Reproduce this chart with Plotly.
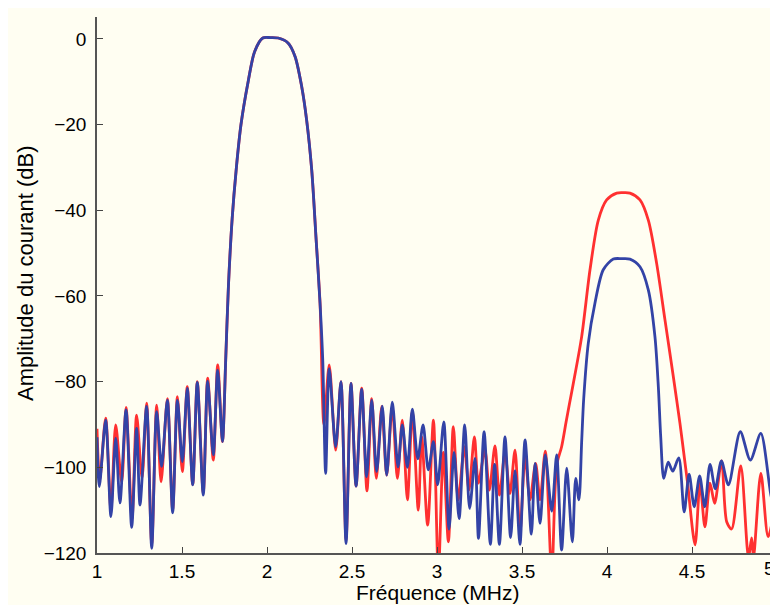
import plotly.graph_objects as go

# ---- data (frequency in MHz, amplitude in dB) ----
blue_f = [1.000, 1.0137, 1.051, 1.082, 1.11, 1.135, 1.171, 1.204, 1.233, 1.253,
          1.292, 1.322, 1.351, 1.38, 1.414, 1.445, 1.473, 1.502, 1.531, 1.563,
          1.59, 1.625, 1.651, 1.684, 1.71, 1.738,
          1.757, 1.773, 1.795, 1.82, 1.847, 1.889, 1.927, 1.975, 2.02, 2.066,
          2.125, 2.165, 2.204, 2.233, 2.263, 2.288, 2.312, 2.328,
          2.345, 2.366, 2.404, 2.435, 2.465, 2.494, 2.524, 2.557, 2.586, 2.616,
          2.645, 2.678, 2.704, 2.737, 2.771, 2.796, 2.826, 2.855, 2.887, 2.918,
          2.949, 2.979, 3.004, 3.04, 3.071, 3.1, 3.13, 3.163, 3.192, 3.224,
          3.244, 3.277, 3.314, 3.339, 3.367, 3.4, 3.433, 3.459, 3.488, 3.518,
          3.555, 3.577, 3.606, 3.637, 3.675, 3.704, 3.733, 3.763, 3.796, 3.816,
          3.835, 3.851, 3.863, 3.89, 3.929, 3.978, 4.037, 4.086, 4.135,
          4.194, 4.243, 4.282, 4.302, 4.316, 4.334, 4.36, 4.387, 4.422, 4.454,
          4.483, 4.513, 4.545, 4.575, 4.606, 4.637, 4.673, 4.714, 4.784, 4.843,
          4.905, 4.972, 5.0]
blue_db = [-93, -104.5, -89, -111.5, -93.2, -108.3, -86.6, -114, -90.9, -108.8,
           -85.8, -118.9, -87, -99.8, -84.3, -110.6, -84.3, -98.7, -81.6, -104.1,
           -80.2, -106.5, -79.9, -97.1, -77.3, -94,
           -75, -57.8, -42, -30, -20, -10, -3, 0.2, 0.3, 0.2,
           -1, -4.1, -11.1, -18.9, -30.6, -46.2, -61.7, -75,
           -101.4, -77, -95.2, -80, -117.8, -80.4, -104.4, -81.8, -102.2, -84.3,
           -101, -85.7, -101.8, -84.8, -99.9, -90.1, -100, -86.4, -98, -90.1,
           -100.6, -94, -104.1, -89.4, -114.4, -96.5, -112, -90.1, -109.6, -97.9,
           -116.6, -91.7, -118, -99.3, -118, -92.9, -116.4, -100.8, -118, -93.6,
           -115.6, -99.1, -113.1, -97.1, -110.2, -97.1, -119.3, -100.2, -117.4, -102.6,
           -107.6, -94, -84, -71, -61.7, -53.9, -51.4, -51.3, -51.4,
           -53.2, -58.6, -69.5, -81.2, -92.9, -102.6, -98.8, -100.9, -97.8, -110.4,
           -101.6, -109.2, -102, -109.2, -99.3, -105, -98.5, -104.1, -91.7, -98.3,
           -92.1, -107.6, -101]

red_f = [1.000, 1.016, 1.051, 1.082, 1.11, 1.145, 1.171, 1.206, 1.233, 1.265,
         1.292, 1.322, 1.351, 1.377, 1.414, 1.445, 1.473, 1.502, 1.531, 1.563,
         1.59, 1.625, 1.651, 1.684, 1.71, 1.738,
         1.757, 1.773, 1.795, 1.82, 1.847, 1.889, 1.927, 1.975, 2.02, 2.066,
         2.125, 2.165, 2.204, 2.233, 2.263, 2.288, 2.312, 2.335,
         2.366, 2.404, 2.435, 2.465, 2.494, 2.524, 2.557, 2.588, 2.616, 2.643,
         2.675, 2.704, 2.737, 2.767, 2.796, 2.826, 2.855, 2.89, 2.91, 2.945,
         2.979, 3.008, 3.037, 3.067, 3.096, 3.125, 3.161, 3.188, 3.22, 3.243,
         3.282, 3.308, 3.341, 3.367, 3.4, 3.429, 3.459, 3.488, 3.518, 3.547,
         3.58, 3.606, 3.637, 3.675, 3.704, 3.733, 3.759, 3.78, 3.802, 3.851,
         3.9, 3.949, 3.998, 4.057, 4.096, 4.135, 4.194, 4.243, 4.292, 4.341,
         4.39, 4.429, 4.459, 4.475, 4.518, 4.547, 4.576, 4.606, 4.633, 4.674,
         4.704, 4.733, 4.787, 4.832, 4.851, 4.862, 4.905, 4.948, 5.0]
red_db = [-91, -103, -88.5, -110, -90.1, -103.5, -86, -112, -87.8, -102.5,
          -85, -118, -85.5, -103.4, -84, -110, -83.5, -101, -81.2, -104,
          -80, -106, -79.2, -98.3, -76.1, -94,
          -75, -57.8, -42, -30, -20, -10, -3, 0.2, 0.3, 0.2,
          -1, -4.1, -11.1, -18.9, -30.6, -46.2, -61.7, -90,
          -76.1, -96, -80, -117, -80.4, -104.4, -81.5, -105.5, -84, -102.6,
          -85.8, -101.8, -85.8, -102.6, -89, -107.6, -87, -110, -92.9, -113.5,
          -89, -125, -96.5, -117.4, -90.5, -107.6, -95.2, -105.3, -92.9, -103.7,
          -96, -105.3, -95, -106.5, -96.7, -106.1, -96, -115.4, -97.5, -107.6,
          -99.1, -107.6, -96.2, -125, -99.5, -95.2, -89.5, -85, -80.4, -69.5,
          -53.9, -42.3, -37.6, -36, -35.9, -36, -37.6, -42.3, -52.4, -65.6,
          -78.8, -89.7, -99, -104, -118.1, -103.7, -113.9, -103.7, -108.4, -98.5,
          -112.7, -114.4, -99.7, -121, -116.5, -121, -101.4, -116.2, -106]

x_ticks = [1, 1.5, 2, 2.5, 3, 3.5, 4, 4.5, 5]
x_tick_text = ["1", "1.5", "2", "2.5", "3", "3.5", "4", "4.5", "5"]
y_ticks = [0, -20, -40, -60, -80, -100, -120]
y_tick_text = ["0", "\u221220", "\u221240", "\u221260", "\u221280", "\u2212100", "\u2212120"]

RED = "#ff3030"
BLUE = "#3343a6"
CREAM = "#fffef2"
FONT = "Liberation Sans, Arial, sans-serif"

fig = go.Figure()
fig.add_trace(go.Scatter(x=red_f, y=red_db, mode="lines",
                         line=dict(color=RED, width=2.8, shape="spline", smoothing=0.8),
                         showlegend=False, hoverinfo="skip"))
fig.add_trace(go.Scatter(x=blue_f, y=blue_db, mode="lines",
                         line=dict(color=BLUE, width=2.8, shape="spline", smoothing=0.8),
                         showlegend=False, hoverinfo="skip"))

# the page body has an 8px margin, so the figure is 8px smaller than the window
OFF = 8
W, H = 770, 597
ml, mr, mt, mb = 89, 1, 9, 52
pw, ph = W - ml - mr, H - mt - mb

def px_to_paper_x(px):  # px: window pixel
    return (px - OFF - ml) / pw

def px_to_paper_y(py):
    return (H - mb - (py - OFF)) / ph

# the last x tick label sits on the right edge: draw it right-anchored so it stays visible
shown_ticktext = x_tick_text[:-1] + [""]
annotations = [
    dict(text=x_tick_text[-1], xref="x", yref="paper", x=x_ticks[-1], y=0,
         xanchor="right", yanchor="top", yshift=-3, showarrow=False,
         font=dict(family=FONT, size=19, color="black")),
    dict(text="Fréquence (MHz)", xref="paper", yref="paper",
         x=0.5, y=px_to_paper_y(592), xanchor="center", yanchor="middle",
         showarrow=False, font=dict(family=FONT, size=21, color="black")),
    dict(text="Amplitude du courant (dB)", xref="paper", yref="paper",
         x=px_to_paper_x(25), y=px_to_paper_y(273), xanchor="center", yanchor="middle",
         textangle=-90, showarrow=False, font=dict(family=FONT, size=22, color="black")),
]

fig.update_layout(
    width=W, height=H,
    margin=dict(l=ml, r=mr, t=mt, b=mb, pad=0, autoexpand=False),
    paper_bgcolor=CREAM, plot_bgcolor=CREAM,
    font=dict(family=FONT, size=19, color="black"),
    showlegend=False,
    annotations=annotations,
)
fig.update_xaxes(range=[1, 5], tickvals=x_ticks, ticktext=shown_ticktext,
                 ticks="inside", ticklen=6, tickcolor="#444", tickwidth=1,
                 showline=True, linecolor="#555", linewidth=1.5, mirror=False,
                 showgrid=False, zeroline=False, ticklabelstandoff=0,
                 tickfont=dict(family=FONT, size=19, color="black"))
fig.update_yaxes(range=[-120, 5.1], tickvals=y_ticks, ticktext=y_tick_text,
                 ticks="inside", ticklen=6, tickcolor="#444", tickwidth=1,
                 showline=True, linecolor="#555", linewidth=1.5, mirror=False,
                 showgrid=False, zeroline=False, ticklabelstandoff=5,
                 ticklabeloverflow="allow",
                 tickfont=dict(family=FONT, size=19, color="black"))

fig.write_html("out.html")
